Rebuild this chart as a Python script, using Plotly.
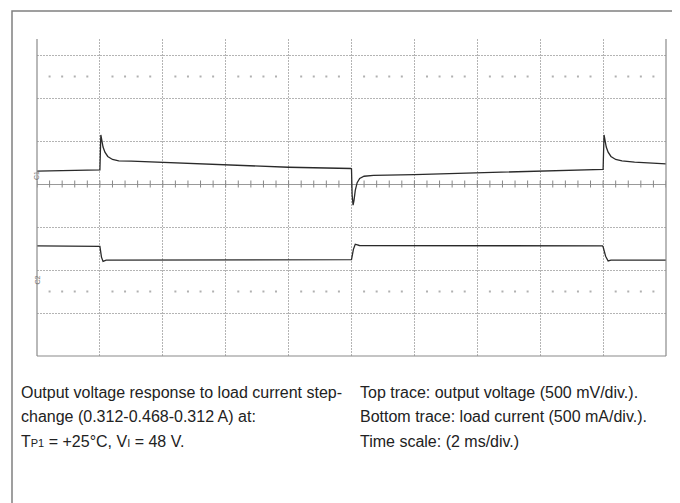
import numpy as np
import plotly.graph_objects as go

# scope screen: 10 div x 2 ms, y in divisions (top 500 mV/div, bottom 500 mA/div)
t_top = [0, 1.0, 1.98, 2.0, 2.03, 2.06, 2.1, 2.16, 2.25, 2.4, 2.6, 3.0, 4.0, 6.0, 8.0, 9.98,
         10.0, 10.02, 10.05, 10.08, 10.12, 10.18, 10.26, 10.4, 10.7, 12.0, 14.0, 16.0, 17.98,
         18.0, 18.03, 18.06, 18.1, 18.16, 18.25, 18.4, 18.6, 19.0, 20.0]
v_top = [0.30, 0.31, 0.32, 0.33, 1.14, 1.0, 0.86, 0.74, 0.64, 0.57, 0.54, 0.53, 0.50, 0.44, 0.39, 0.36,
         0.35, -0.25, -0.49, -0.38, -0.15, 0.03, 0.13, 0.18, 0.20, 0.22, 0.26, 0.29, 0.33,
         0.34, 1.14, 1.0, 0.86, 0.74, 0.64, 0.57, 0.54, 0.51, 0.47]

t_bot = [0, 1.98, 2.0, 2.05, 2.1, 2.2, 4.0, 9.98, 10.0, 10.06, 10.12, 10.25, 14.0, 17.98,
         18.0, 18.08, 18.16, 18.25, 20.0]
i_bot = [-1.44, -1.44, -1.45, -1.70, -1.80, -1.77, -1.77, -1.77, -1.76, -1.52, -1.40, -1.43, -1.44, -1.44,
         -1.46, -1.68, -1.79, -1.77, -1.77]

caption_left = ["Output voltage response to load current step-",
                "change (0.312-0.468-0.312 A) at:",
                "T<span style='font-size:11px'>P1</span> = +25°C, V<span style='font-size:11px'>I</span> = 48 V."]
caption_right = ["Top trace: output voltage (500 mV/div.).",
                 "Bottom trace: load current (500 mA/div.).",
                 "Time scale: (2 ms/div.)"]

W, H = 680, 503
px = lambda x: x / W
py = lambda y: 1 - y / H

fig = go.Figure()

# small tick marks on the centre line and dotted rows
ticks = np.arange(0, 20.01, 0.4)
fig.add_trace(go.Scatter(x=ticks, y=[0] * len(ticks), mode="markers",
                         marker=dict(symbol="line-ns", size=5, line=dict(width=1, color="#888")),
                         hoverinfo="skip"))
dots = np.arange(0.4, 20, 0.4)
dots = dots[np.abs(dots / 2 - np.round(dots / 2)) > 0.01]
for yy in [2.5, -2.5]:
    fig.add_trace(go.Scatter(x=dots, y=[yy] * len(dots), mode="markers",
                             marker=dict(symbol="square", size=2, color="#b0b0b0"),
                             hoverinfo="skip"))

fig.add_trace(go.Scatter(x=t_top, y=v_top, mode="lines",
                         line=dict(color="#2a2a2a", width=1.3), hoverinfo="skip"))
fig.add_trace(go.Scatter(x=t_bot, y=i_bot, mode="lines",
                         line=dict(color="#2a2a2a", width=1.3), hoverinfo="skip"))
# trigger level marker
fig.add_trace(go.Scatter(x=[20.12], y=[-1.44], mode="markers", cliponaxis=False,
                         marker=dict(symbol="triangle-left", size=6, color="#222"),
                         hoverinfo="skip"))

grid = dict(showgrid=True, gridcolor="#b4b4b4", griddash="2px,1px", gridwidth=1,
            showticklabels=False, ticks="", fixedrange=True)
fig.update_xaxes(domain=[px(29), px(658)], range=[0, 20], dtick=2, tick0=0, zeroline=False, **grid)
fig.update_yaxes(domain=[py(348), py(31)], range=[-4, 3.372], dtick=1, tick0=0,
                 zeroline=True, zerolinecolor="#999", zerolinewidth=1, **grid)

# screen edges
edge = dict(color="#8a8a8a", width=1.2)
fig.add_shape(type="line", xref="paper", yref="paper", x0=px(29), x1=px(29), y0=py(348), y1=py(31), line=edge)
fig.add_shape(type="line", xref="paper", yref="paper", x0=px(658), x1=px(658), y0=py(348), y1=py(31), line=edge)
fig.add_shape(type="line", xref="paper", yref="paper", x0=px(29), x1=px(658), y0=py(348), y1=py(348), line=edge)
# outer frame
fig.add_shape(type="rect", xref="paper", yref="paper", x0=px(4), x1=px(672), y0=-0.02, y1=py(3),
              line=dict(color="#808080", width=1.5))

# channel labels
for lab, yy in [("C1", 161), ("C2", 272)]:
    fig.add_annotation(xref="paper", yref="paper", x=px(23), y=py(yy), text=lab, showarrow=False,
                       textangle=-90, font=dict(size=7, color="#777", family="Liberation Sans"))

for i, s in enumerate(caption_left):
    fig.add_annotation(xref="paper", yref="paper", x=px(11), y=py(384 + 24.5 * i), text=s,
                       showarrow=False, xanchor="left", yanchor="middle",
                       font=dict(size=16, color="#222", family="Liberation Sans, Arial"))
for i, s in enumerate(caption_right):
    fig.add_annotation(xref="paper", yref="paper", x=px(350), y=py(384 + 24.5 * i), text=s,
                       showarrow=False, xanchor="left", yanchor="middle",
                       font=dict(size=16, color="#222", family="Liberation Sans, Arial"))

fig.update_layout(width=W, height=H, margin=dict(l=0, r=0, t=0, b=0),
                  paper_bgcolor="white", plot_bgcolor="white", showlegend=False)

fig.write_html("out.html")
